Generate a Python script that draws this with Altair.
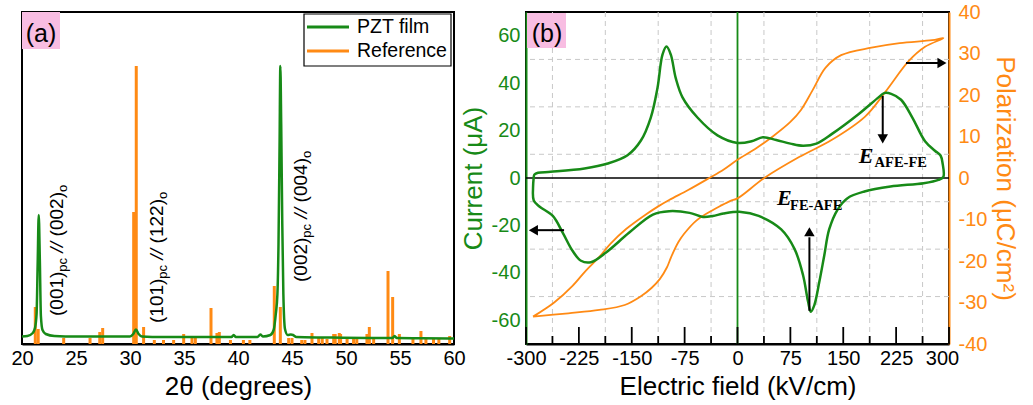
import altair as alt
import pandas as pd

GREEN = "#178a17"
ORANGE = "#ff8a14"
PINK = "#f8bde2"
GRID = "#c8c8c8"
SANS = "Liberation Sans"
SERIF = "Liberation Serif"

# ---------------- panel (a): XRD ----------------
film_tt = [20.0, 20.5, 21.0, 21.2, 21.35, 21.45, 21.55, 21.65, 21.75, 21.9, 22.2, 23.0, 25.0, 28.0,
           30.0, 30.3, 30.55, 30.8, 31.1, 33.0, 36.0, 39.4, 39.6, 39.8, 41.8, 42.07, 42.3, 43.0,
           43.3, 43.5, 43.65, 43.75, 43.85, 43.92, 44.0, 44.1, 44.2, 44.35, 44.6, 44.9, 45.1, 45.4,
           48.0, 52.0, 54.3, 54.5, 54.7, 57.0, 60.0]
film_int = [7.5, 8, 11, 16, 30, 80, 129, 85, 28, 14, 10, 8, 7.5, 7.5,
            7.5, 10, 14.5, 10, 7.5, 7, 7, 7, 9, 7, 7, 9.5, 7.5, 9,
            14, 30, 50, 100, 200, 278, 220, 120, 50, 15, 9, 9.5, 9, 7,
            6.5, 6, 6, 8, 6, 5.8, 5.5]
ref_tt = [21.23, 21.5, 23.86, 26.3, 27.2, 27.47, 30.34, 30.58, 31.26, 32.25, 33.1, 34.04, 34.97,
          35.74, 36.05, 37.5, 38.05, 38.27, 39.3, 40.5, 41.1, 43.36, 43.92, 44.69, 45.0, 45.9,
          46.2, 46.85, 47.47, 47.8, 48.24, 48.86, 49.0, 49.38, 49.5, 50.1, 50.7, 51.0, 51.94,
          52.16, 52.56, 53.89, 54.32, 54.94, 56.2, 56.94, 57.4, 58.1, 58.6, 59.6]
ref_int = [37, 15, 6, 6, 12, 16, 132, 278, 17, 4, 4, 4, 10,
           8, 6, 36, 11, 12, 4, 4, 4, 58, 37, 6, 6, 4,
           4, 11, 7, 6, 5, 10, 10, 11, 10, 5, 5, 5, 10,
           17, 6, 73, 47, 10, 5, 13, 6, 6, 5, 8]
series_names = ["PZT film", "Reference"]
xa_ticks = [20, 25, 30, 35, 40, 45, 50, 55, 60]
peak_main1 = ["(001)", "(101)", "(002)"]
peak_sub1 = ["pc", "pc", "pc"]
peak_mid = ["//", "//", "//"]
peak_main2 = ["(002)", "(122)", "(004)"]
peak_sub2 = ["o", "o", "o"]
peak_tt = [23.75, 33.05, 46.35]
peak_start = [28, 21, 62]

# ---------------- panel (b): I-E and P-E loops ----------------
cur_E = [-289, -288, -283, -265, -217, -184, -156, -137, -123, -113.5, -106.4, -100.7, -94.6,
         -87.5, -78, -56.8, -28.4, 0, 20, 36, 55, 75, 93, 112, 134, 172, 200, 208, 218, 232,
         248, 266, 280, 288, 291, 292,
         285, 264, 217, 180, 156, 142, 130, 123, 116, 109, 104, 100, 93, 81, 62, 30, 5, -20,
         -35, -49, -68, -97, -120, -153.5, -186.5, -208, -222, -234, -248, -262, -281, -289,
         -290, -289]
cur_I = [0.5, 1.5, 2.2, 2.6, 4, 6.1, 9.6, 15.8, 25.5, 38, 52, 55.4, 52,
         42, 34, 25.5, 18, 14.8, 15.5, 17.2, 16, 14.5, 13.6, 14.5, 18.6, 27, 34, 35.8, 35.5, 33,
         25.5, 15.5, 11.5, 9.5, 6, 0.5,
         -0.8, -2.2, -3.6, -5.7, -8.5, -13.3, -21.7, -32.8, -43.9, -53.6, -56.4, -52, -41, -30,
         -21.7, -16, -14.3, -15, -16, -16.4, -14.7, -14, -15.4, -23, -31.4, -35.5, -34.9, -30.7,
         -23, -16, -12, -9.5, -4, 0.5]
pol_E = [-290, -240, -196, -160, -138, -122, -110, -100, -94, -84, -76, -58, -43, -25, -10, 0,
         38, 88, 134, 181, 210, 243, 266, 292,
         276, 230, 190, 147, 125, 106, 90, 75, 50, 25, 0, -20, -40, -70, -97, -113, -130, -158,
         -180, -196, -215, -234, -260, -290]
pol_P = [-33.4, -32.6, -31.8, -30.6, -28.6, -26.5, -24.3, -21.5, -19, -15.5, -13.5, -10.2, -8.5,
         -6.8, -5.5, -4.9, 0, 5.1, 9.2, 14.8, 20.8, 28.2, 31.6, 33.7,
         33.2, 32.5, 31.4, 29.6, 26.6, 21, 16.4, 13.5, 10, 7, 4.4, 2, 0, -2.9, -5.3, -6.9, -8.8,
         -12.3, -15.8, -19, -22.3, -26, -30, -33.4]
xb_ticks = [-300, -225, -150, -75, 0, 75, 150, 225, 300]
xb_minor = [-262.5, -187.5, -112.5, -37.5, 37.5, 112.5, 187.5, 262.5]
yc_ticks = [-60, -40, -20, 0, 20, 40, 60]
yc_grid = [-50, -30, -10, 10, 30, 50]
yp_ticks = [-40, -30, -20, -10, 0, 10, 20, 30, 40]
arrow_E1 = [239, -246, 206, 102]
arrow_E2 = [289, -288, 206, 102]
arrow_I1 = [48.5, -22, 34.6, -56]
arrow_I2 = [48.5, -22, 17.5, -25]
head_E = [290, -289.5, 206, 102]
head_I = [48.5, -22, 16.5, -22.7]
head_shape = ["triangle-right", "triangle-left", "triangle-down", "triangle-up"]
ann_main = ["E", "E"]
ann_sub = ["AFE-FE", "FE-AFE"]
ann_E = [172, 56]
ann_I = [6.3, -11.25]
ann_sub_E = [194.5, 74.5]
ann_sub_I = [4.6, -13.3]

WA, HA = 432, 332
WB, HB = 423, 332
LABEL_EXPR = "'' + datum.value"

# ================= panel (a) =================
xa = alt.Scale(domain=[20, 60], nice=False, zero=False, padding=0)
ya = alt.Scale(domain=[0, 332], nice=False, padding=0)
axa = alt.Axis(values=xa_ticks, title="2θ (degrees)", ticks=False, grid=False, labelFlush=False,
               domainColor="black", domainWidth=2, labelFontSize=20, titleFontSize=26,
               labelPadding=4, titlePadding=5, labelColor="black", titleColor="black",
               labelExpr=LABEL_EXPR)


def XA(f):
    return alt.X(f, type="quantitative", scale=xa, axis=axa)


def YA(f):
    return alt.Y(f, type="quantitative", scale=ya, axis=None)


df_ref = pd.DataFrame({"tt": ref_tt, "v": ref_int, "b": [0] * len(ref_tt)})
df_film = pd.DataFrame({"tt": film_tt, "v": film_int})

ref_layer = alt.Chart(df_ref).mark_rule(color=ORANGE, strokeWidth=3).encode(
    x=XA("tt"), y=YA("v"), y2=alt.Y2("b"))
film_layer = alt.Chart(df_film).mark_line(color=GREEN, strokeWidth=2.5, interpolate="monotone").encode(
    x=XA("tt"), y=YA("v"))

# rotated peak labels with subscripts (segments stacked along the text direction)
CW = {"(": .333, ")": .333, " ": .278, "/": .278, "p": .556, "c": .5, "o": .556}
FS_MAIN, FS_SUB = 19, 13
SUB_SHIFT = 4.5 * 40 / WA
rows = []
for i in range(len(peak_tt)):
    pos = peak_start[i]
    for txt, kind in [(peak_main1[i], "main"), (peak_sub1[i], "sub"), (peak_mid[i], "ital"),
                      (peak_main2[i], "main"), (peak_sub2[i], "sub")]:
        fs = FS_SUB if kind == "sub" else FS_MAIN
        if kind == "ital":
            pos += 0.278 * FS_MAIN
        rows.append({"tt": peak_tt[i] + (SUB_SHIFT if kind == "sub" else 0), "v": pos,
                     "txt": txt, "fs": fs, "kind": kind})
        pos += fs * sum(CW.get(c, .556) for c in txt)
        if kind == "ital":
            pos += 0.3 * FS_MAIN
df_lab = pd.DataFrame(rows)

lab_plain = alt.Chart(df_lab).transform_filter("datum.kind != 'ital'").mark_text(
    angle=270, align="left", baseline="alphabetic", font=SANS, color="black").encode(
    x=XA("tt"), y=YA("v"), text="txt:N", size=alt.Size("fs:Q", scale=None, legend=None))
lab_ital = alt.Chart(df_lab).transform_filter("datum.kind == 'ital'").mark_text(
    angle=270, align="left", baseline="alphabetic", font=SANS, fontStyle="italic",
    fontSize=FS_MAIN, color="black").encode(x=XA("tt"), y=YA("v"), text="txt:N")

# legend (drawn inside the plot)
one = pd.DataFrame({"name": series_names})
leg_box = alt.Chart(one.head(1)).mark_rect(fill="white", stroke="black", strokeWidth=1.2).encode(
    x=alt.value(282), x2=alt.value(429), y=alt.value(2), y2=alt.value(54))
leg_l1 = alt.Chart(one.iloc[[0]]).mark_rule(color=GREEN, strokeWidth=3).encode(
    x=alt.value(285), x2=alt.value(327), y=alt.value(15))
leg_l2 = alt.Chart(one.iloc[[1]]).mark_rule(color=ORANGE, strokeWidth=3).encode(
    x=alt.value(285), x2=alt.value(327), y=alt.value(39))
leg_t1 = alt.Chart(one.iloc[[0]]).mark_text(align="left", baseline="middle", fontSize=19.5,
                                            font=SANS, color="black").encode(
    x=alt.value(335), y=alt.value(15), text="name:N")
leg_t2 = alt.Chart(one.iloc[[1]]).mark_text(align="left", baseline="middle", fontSize=19.5,
                                            font=SANS, color="black").encode(
    x=alt.value(335), y=alt.value(39), text="name:N")

lab_df_a = pd.DataFrame({"t": ["(a)"]})
pa_rect = alt.Chart(lab_df_a).mark_rect(fill=PINK).encode(
    x=alt.value(0), x2=alt.value(38), y=alt.value(0), y2=alt.value(37))
pa_text = alt.Chart(lab_df_a).mark_text(fontSize=25, font=SANS, align="center",
                                         baseline="alphabetic", color="black").encode(
    x=alt.value(19), y=alt.value(30), text="t:N")

panel_a = alt.layer(ref_layer, film_layer, lab_plain, lab_ital, leg_box, leg_l1, leg_l2,
                    leg_t1, leg_t2, pa_rect, pa_text).properties(width=WA, height=HA)

# ================= panel (b) =================
xb = alt.Scale(domain=[-300, 300], nice=False, zero=False, padding=0)
yc = alt.Scale(domain=[-70, 70], nice=False, padding=0)
yp = alt.Scale(domain=[-40, 40], nice=False, padding=0)
axb = alt.Axis(values=xb_ticks, title="Electric field (kV/cm)", ticks=False, grid=False,
               labelFlush=False, domainColor="black", domainWidth=2, labelFontSize=20,
               titleFontSize=26, labelPadding=4, titlePadding=5, labelColor="black",
               titleColor="black", labelExpr=LABEL_EXPR,
               labelOffset={"condition": {"test": "datum.value == 300", "value": -7}, "value": 0})
axc = alt.Axis(orient="left", values=yc_ticks, title="Current (μA)", labelColor=GREEN,
               titleColor=GREEN, domainColor=GREEN, domainWidth=2, ticks=False, grid=False,
               labelFlush=False, labelFontSize=20, titleFontSize=26, labelPadding=6,
               titlePadding=5, labelExpr=LABEL_EXPR)
axp = alt.Axis(orient="right", values=yp_ticks, title="Polarization (μC/cm²)",
               labelColor=ORANGE, titleColor=ORANGE, domainColor=ORANGE, domainWidth=2,
               ticks=False, grid=False, labelFlush=False, labelFontSize=20, titleFontSize=26,
               labelPadding=9, titlePadding=5, labelExpr=LABEL_EXPR)


def XB(f):
    return alt.X(f, type="quantitative", scale=xb, axis=axb)


def YC(f, ax=None):
    return alt.Y(f, type="quantitative", scale=yc, axis=ax)


grid_v = alt.Chart(pd.DataFrame({"E": xb_minor})).mark_rule(
    color=GRID, strokeDash=[5, 4], strokeWidth=1).encode(x=XB("E"))
grid_h = alt.Chart(pd.DataFrame({"I": yc_grid})).mark_rule(
    color=GRID, strokeDash=[5, 4], strokeWidth=1).encode(y=YC("I"))
zero_v = alt.Chart(pd.DataFrame({"E": [0]})).mark_rule(color=GREEN, strokeWidth=1.8).encode(x=XB("E"))
zero_h = alt.Chart(pd.DataFrame({"I": [0]})).mark_rule(color="black", strokeWidth=1.6).encode(y=YC("I"))
under = alt.layer(grid_v, grid_h, zero_v, zero_h)

df_pol = pd.DataFrame({"E": pol_E, "P": pol_P, "k": list(range(len(pol_E)))})
pol_line = alt.Chart(df_pol).mark_line(color=ORANGE, strokeWidth=1.8, interpolate="catmull-rom").encode(
    x=XB("E"), y=alt.Y("P", type="quantitative", scale=yp, axis=axp), order="k:Q")

MAJ, MIN = 17 * 140 / HB, 8 * 140 / HB
tick_E = xb_ticks + xb_minor
df_ticks = pd.DataFrame({"E": tick_E, "b": [-70] * len(tick_E),
                         "t": [-70 + MAJ] * len(xb_ticks) + [-70 + MIN] * len(xb_minor)})
ticks = alt.Chart(df_ticks).mark_rule(color="black", strokeWidth=1.8).encode(
    x=XB("E"), y=YC("b", axc), y2="t")
df_cur = pd.DataFrame({"E": cur_E, "I": cur_I, "k": list(range(len(cur_E)))})
cur_line = alt.Chart(df_cur).mark_line(color=GREEN, strokeWidth=2.5, interpolate="catmull-rom").encode(
    x=XB("E"), y=YC("I", axc), order="k:Q")
df_arr = pd.DataFrame({"E1": arrow_E1, "E2": arrow_E2, "I1": arrow_I1, "I2": arrow_I2})
arrows = alt.Chart(df_arr).mark_rule(color="black", strokeWidth=2).encode(
    x=XB("E1"), x2="E2", y=YC("I1", axc), y2="I2")
df_head = pd.DataFrame({"E": head_E, "I": head_I, "s": head_shape})
heads = alt.Chart(df_head).mark_point(filled=True, color="black", opacity=1, size=110).encode(
    x=XB("E"), y=YC("I", axc), shape=alt.Shape("s:N", scale=None))
df_ann = pd.DataFrame({"E": ann_E, "I": ann_I, "t": ann_main})
df_sub = pd.DataFrame({"E": ann_sub_E, "I": ann_sub_I, "t": ann_sub})
ann1 = alt.Chart(df_ann).mark_text(font=SERIF, fontStyle="italic", fontWeight="bold", fontSize=22,
                                   align="left", baseline="alphabetic", color="black").encode(
    x=XB("E"), y=YC("I", axc), text="t:N")
ann2 = alt.Chart(df_sub).mark_text(font=SERIF, fontWeight="bold", fontSize=14.5,
                                   align="left", baseline="alphabetic", color="black").encode(
    x=XB("E"), y=YC("I", axc), text="t:N")
lab_df_b = pd.DataFrame({"t": ["(b)"]})
pb_rect = alt.Chart(lab_df_b).mark_rect(fill=PINK).encode(
    x=alt.value(1), x2=alt.value(40), y=alt.value(1), y2=alt.value(36))
pb_text = alt.Chart(lab_df_b).mark_text(fontSize=25, font=SANS, align="center",
                                         baseline="alphabetic", color="black").encode(
    x=alt.value(21), y=alt.value(30), text="t:N")
top = alt.layer(ticks, cur_line, arrows, heads, ann1, ann2, pb_rect, pb_text)

panel_b = alt.layer(under, pol_line, top).resolve_scale(y="independent").properties(
    width=WB, height=HB)

chart = alt.hconcat(panel_a, panel_b, spacing=72, bounds="flush").properties(
    padding={"left": 9, "top": 1, "right": 2, "bottom": 2}, background="white"
).configure_view(stroke="black", strokeWidth=2).configure_axis(
    labelFont=SANS, titleFont=SANS, titleFontWeight="normal")

chart.save("out.html", embed_options={"renderer": "svg", "actions": False})
